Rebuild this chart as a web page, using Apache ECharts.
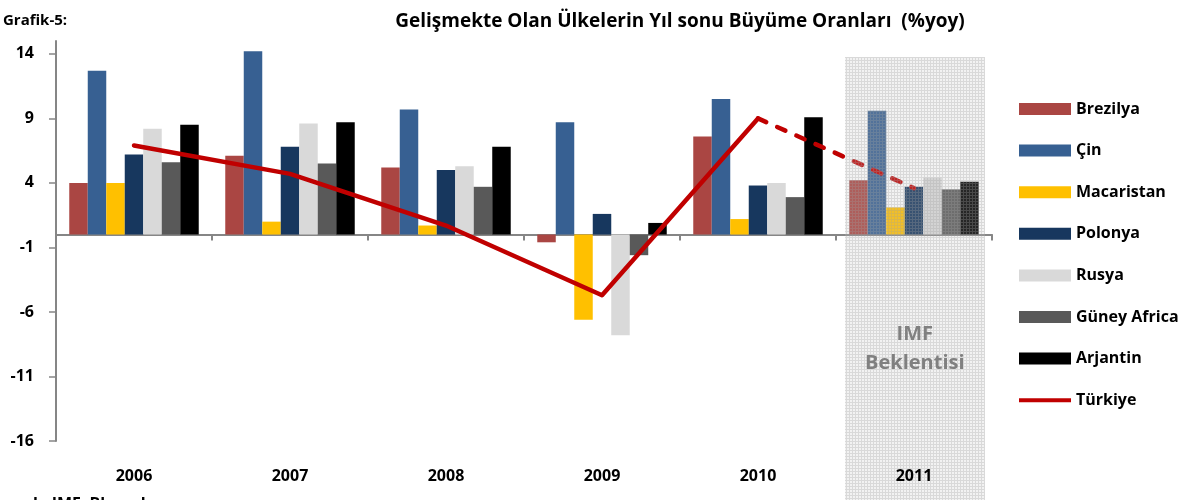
<!DOCTYPE html>
<html>
<head>
<meta charset="utf-8">
<script src="https://cdn.jsdelivr.net/npm/echarts@6/dist/echarts.min.js"></script>
<style>
  html, body { margin: 0; padding: 0; background: #fff; }
  #chart { width: 1199px; height: 500px; }
</style>
</head>
<body>
<div id="chart"></div>
<script>
const years = ['2006', '2007', '2008', '2009', '2010', '2011'];
const yTicks = [-16, -11, -6, -1, 4, 9, 14];

const brezilya = [4.0, 6.1, 5.2, -0.6, 7.6, 4.2];
const cin = [12.7, 14.2, 9.7, 8.7, 10.5, 9.6];
const macaristan = [4.0, 1.0, 0.7, -6.6, 1.2, 2.1];
const polonya = [6.2, 6.8, 5.0, 1.6, 3.8, 3.7];
const rusya = [8.2, 8.6, 5.3, -7.8, 4.0, 4.4];
const guneyAfrica = [5.6, 5.5, 3.7, -1.6, 2.9, 3.5];
const arjantin = [8.5, 8.7, 6.8, 0.9, 9.1, 4.1];
const turkiye = [6.9, 4.7, 0.7, -4.7, 9.0, null];
const turkiyeTahmin = [null, null, null, null, 9.0, 3.6];

const font = '"Open Sans"';
const chart = echarts.init(document.getElementById('chart'));

// checkered overlay for the forecast year
const pat = document.createElement('canvas');
pat.width = 3; pat.height = 3;
const pc = pat.getContext('2d');
pc.fillStyle = 'rgba(190,190,190,0.2)';
pc.fillRect(0, 0, 3, 3);
pc.fillStyle = 'rgba(160,160,160,0.3)';
pc.fillRect(0, 0, 3, 1);
pc.fillRect(0, 1, 1, 2);

function bar(name, data, color) {
  return {
    name: name,
    type: 'bar',
    data: data,
    barGap: '0%',
    barCategoryGap: '17%',
    itemStyle: { color: color },
    z: 2
  };
}

const option = {
  animation: false,
  textStyle: { fontFamily: font },
  grid: { left: 56, right: 207, top: 41, bottom: 59, containLabel: false },
  title: [
    {
      text: 'Gelişmekte Olan Ülkelerin Yıl sonu Büyüme Oranları  (%yoy)',
      left: 675, top: 7, textAlign: 'center',
      textStyle: { fontFamily: font, fontSize: 19, fontWeight: 'bold', color: '#000' }
    },
    {
      text: 'Grafik-5:',
      left: -2, top: 8,
      textStyle: { fontFamily: font, fontSize: 15, fontWeight: 'bold', color: '#000' }
    },
    {
      text: 'k: IMF, Bloomberg',
      left: 28, top: 491,
      textStyle: { fontFamily: font, fontSize: 16, fontWeight: 'bold', color: '#000' }
    }
  ],
  legend: {
    orient: 'vertical',
    left: 1014, top: 96,
    itemWidth: 52, itemHeight: 12, itemGap: 25.6,
    textStyle: { fontFamily: font, fontSize: 16, lineHeight: 16, fontWeight: 'bold', color: '#000' },
    data: [
      { name: 'Brezilya', icon: 'rect' },
      { name: 'Çin', icon: 'rect' },
      { name: 'Macaristan', icon: 'rect' },
      { name: 'Polonya', icon: 'rect' },
      { name: 'Rusya', icon: 'rect' },
      { name: 'Güney Africa', icon: 'rect' },
      { name: 'Arjantin', icon: 'rect' },
      { name: 'Türkiye', icon: 'path://M0,0H52V4H0Z' }
    ]
  },
  xAxis: [
    {
      type: 'category',
      data: years,
      position: 'bottom',
      axisLine: { show: false, onZero: false },
      axisTick: { show: false },
      axisLabel: { margin: 27, fontFamily: font, fontSize: 16, fontWeight: 'bold', color: '#000' },
      z: 120
    },
    {
      type: 'category',
      data: years,
      position: 'top',
      axisLine: { onZero: true, lineStyle: { color: '#868686', width: 2 } },
      axisTick: { show: true, inside: true, length: 6, lineStyle: { color: '#868686', width: 2 } },
      axisLabel: { show: false }
    }
  ],
  yAxis: {
    type: 'value',
    min: -16, max: 15,
    splitLine: { show: false },
    axisLine: { show: true, onZero: false, lineStyle: { color: '#868686', width: 2 } },
    axisTick: { show: true, length: 7, customValues: yTicks, lineStyle: { color: '#868686', width: 1.5 } },
    axisLabel: { margin: 22, customValues: yTicks, fontFamily: font, fontSize: 16, fontWeight: 'bold', color: '#000' }
  },
  series: [
    bar('Brezilya', brezilya, '#AA4643'),
    bar('Çin', cin, '#376092'),
    bar('Macaristan', macaristan, '#FFC000'),
    bar('Polonya', polonya, '#17375E'),
    bar('Rusya', rusya, '#D9D9D9'),
    bar('Güney Africa', guneyAfrica, '#595959'),
    bar('Arjantin', arjantin, '#000000'),
    {
      name: 'Türkiye',
      type: 'line',
      data: turkiye,
      symbol: 'none',
      lineStyle: { color: '#C00000', width: 4.5, join: 'round', cap: 'round' },
      itemStyle: { color: '#C00000' },
      z: 5
    },
    {
      name: 'Türkiye (IMF)',
      type: 'line',
      data: turkiyeTahmin,
      symbol: 'none',
      lineStyle: { color: '#C00000', width: 4.5, type: [9, 12], cap: 'round' },
      itemStyle: { color: '#C00000' },
      z: 5
    }
  ],
  graphic: [
    {
      type: 'rect',
      z: 100,
      silent: true,
      shape: { x: 845, y: 57, width: 140, height: 443 },
      style: { fill: { image: pat, repeat: 'repeat' } }
    },
    {
      type: 'text',
      z: 101,
      left: 915 - 50, top: 320,
      style: {
        text: 'IMF\nBeklentisi',
        x: 50,
        textAlign: 'center',
        fill: '#808080',
        font: 'bold 20px ' + font,
        lineHeight: 29
      }
    }
  ]
};

chart.setOption(option);
</script>
</body>
</html>
